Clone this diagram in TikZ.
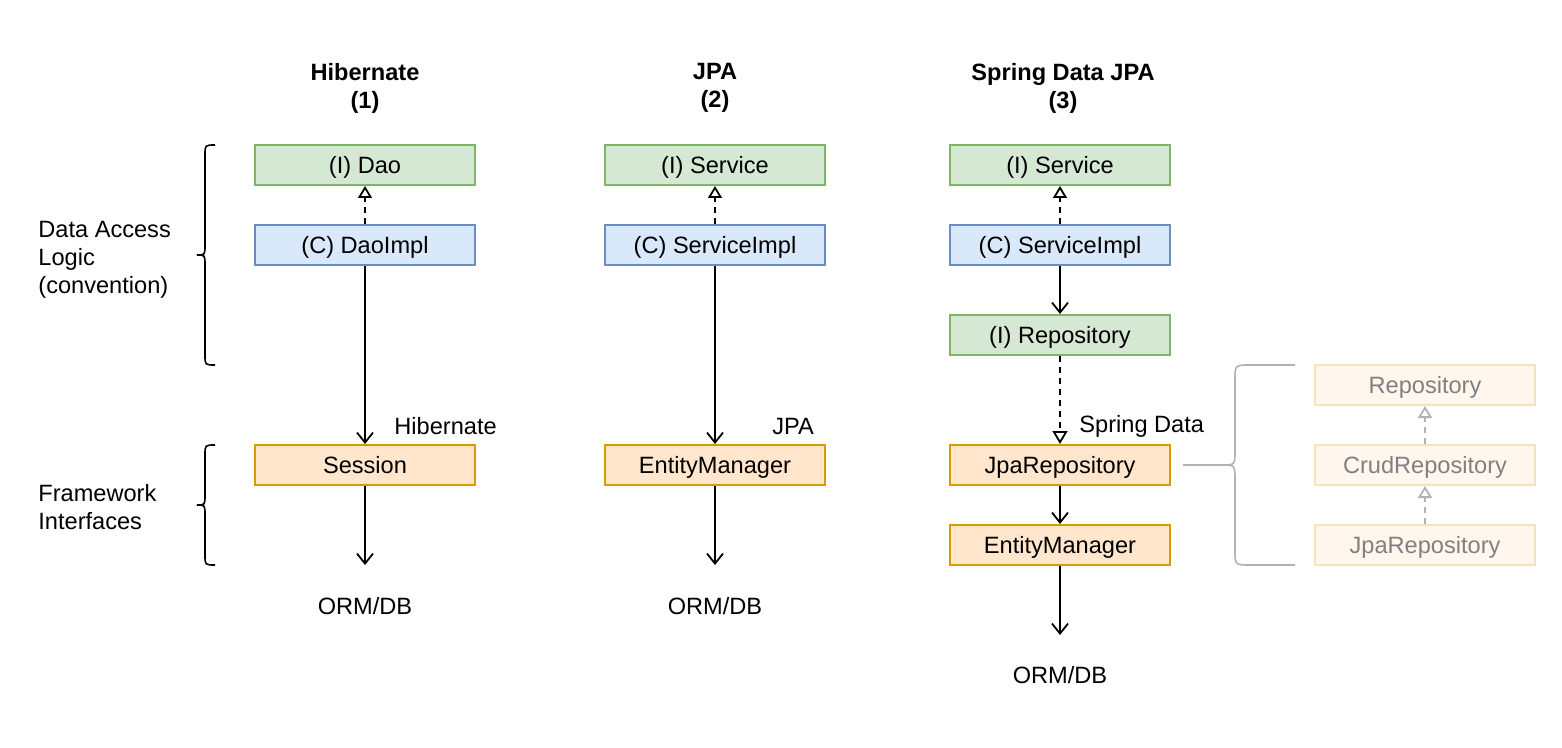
\documentclass[tikz,border=0pt]{standalone}
\usepackage{fontspec}
\setmainfont{Liberation Sans}
\usetikzlibrary{arrows.meta}
\definecolor{leaffill}{RGB}{213, 232, 212}
\definecolor{leafline}{RGB}{130, 179, 102}
\definecolor{skyfill}{RGB}{218, 232, 252}
\definecolor{skyline}{RGB}{108, 142, 191}
\definecolor{sandfill}{RGB}{255, 230, 204}
\definecolor{sandline}{RGB}{215, 155, 0}
\definecolor{palefill}{RGB}{255, 246, 238}
\definecolor{paleline}{RGB}{249, 225, 188}
\definecolor{paletext}{RGB}{128, 128, 128}
\definecolor{bracegray}{RGB}{178, 178, 178}
\tikzset{
  box/.style    = {draw, line width=1pt, minimum width=110pt, minimum height=20pt, inner sep=0pt, text height=8.4pt, text depth=0pt},
  ifacebox/.style = {box, draw=leafline, fill=leaffill},
  implbox/.style  = {box, draw=skyline,  fill=skyfill},
  fwbox/.style    = {box, draw=sandline, fill=sandfill},
  palebox/.style  = {box, draw=paleline, fill=palefill, text=paletext},
  tag/.style      = {anchor=west, inner sep=0pt},
  uses/.style     = {-{Straight Barb[length=5pt,width=8pt]}, line width=0.9pt},
  realizes/.style = {-{Triangle[open,length=6pt,width=7pt]}, line width=0.9pt, dash pattern=on 3pt off 2.5pt},
}
\begin{document}
\begin{tikzpicture}[x=0.5pt, y=-0.5pt, every node/.style={font=\fontsize{11.8}{14}\selectfont}]
            \useasboundingbox (0,0) rectangle (1562,748);
            \node[align=center, font=\fontsize{11.8}{14}\selectfont\bfseries] (title1) at ( 365, 88) {Hibernate\\(1)};
            \node[align=center, font=\fontsize{11.8}{14}\selectfont\bfseries] (title2) at ( 715, 88) {JPA\\(2)};
            \node[align=center, font=\fontsize{11.8}{14}\selectfont\bfseries] (title3) at (1063, 88) {Spring Data JPA\\(3)};
            \node[tag, align=left] (dalabel) at (38, 260) {Data Access\\Logic\\(convention)};
            \node[tag, align=left] (fwlabel) at (38, 507) {Framework\\Interfaces};
            \draw[line width=0.8pt] (215,145) .. controls (205,145) .. (205,155) -- (205,245) .. controls (205,255) .. (197,255)
                 .. controls (205,255) .. (205,265) -- (205,355) .. controls (205,365) .. (215,365);
            \draw[line width=0.8pt] (215,445) .. controls (205,445) .. (205,455) -- (205,495) .. controls (205,505) .. (197,505)
                 .. controls (205,505) .. (205,515) -- (205,555) .. controls (205,565) .. (215,565);
            \node[ifacebox] (dao)      at ( 365, 165) {(I) Dao};
            \node[implbox]  (daoimpl)  at ( 365, 245) {(C) DaoImpl};
            \node[fwbox]    (session)  at ( 365, 465) {Session};
            \node           (orm1)     at ( 365, 606) {ORM/DB};
            \coordinate     (end1)     at ( 365, 565);
            \node[ifacebox] (svc2)     at ( 715, 165) {(I) Service};
            \node[implbox]  (svcimpl2) at ( 715, 245) {(C) ServiceImpl};
            \node[fwbox]    (em2)      at ( 715, 465) {EntityManager};
            \node           (orm2)     at ( 715, 606) {ORM/DB};
            \coordinate     (end2)     at ( 715, 565);
            \node[ifacebox] (svc3)     at (1060, 165) {(I) Service};
            \node[implbox]  (svcimpl3) at (1060, 245) {(C) ServiceImpl};
            \node[ifacebox] (repo3)    at (1060, 335) {(I) Repository};
            \node[fwbox]    (jparepo)  at (1060, 465) {JpaRepository};
            \node[fwbox]    (em3)      at (1060, 545) {EntityManager};
            \node           (orm3)     at (1060, 675) {ORM/DB};
            \coordinate     (end3)     at (1060, 635);
            \node[palebox]  (repo)     at (1425, 385) {Repository};
            \node[palebox]  (crud)     at (1425, 465) {CrudRepository};
            \node[palebox]  (jpa)      at (1425, 545) {JpaRepository};
            \node[tag]      (hiblabel) at ( 394, 426) {Hibernate};
            \node[tag]      (jpalabel) at ( 772, 426) {JPA};
            \node[tag]      (sdlabel)  at (1079, 426) {Spring Data};
            \draw[realizes] (daoimpl)  -- (dao);
            \draw[uses]     (daoimpl)  -- (session);
            \draw[uses]     (session)  -- (end1);
            \draw[realizes] (svcimpl2) -- (svc2);
            \draw[uses]     (svcimpl2) -- (em2);
            \draw[uses]     (em2)      -- (end2);
            \draw[realizes] (svcimpl3) -- (svc3);
            \draw[uses]     (svcimpl3) -- (repo3);
            \draw[realizes, -{Triangle[open,length=6.5pt,width=7.5pt]}] (repo3) -- (jparepo);
            \draw[uses]     (jparepo)  -- (em3);
            \draw[uses]     (em3)      -- (end3);
            \draw[realizes, draw=bracegray] (crud) -- (repo);
            \draw[realizes, draw=bracegray] (jpa)  -- (crud);
            \coordinate (bracetip) at (1222, 465);
            \draw[bracegray, line width=0.8pt] (jparepo.east) ++(12,0) -- (bracetip);
            \draw[bracegray, line width=0.8pt] (1295,365) -- (1250,365) .. controls (1235,365) .. (1235,380) -- (1235,450)
                 .. controls (1235,465) .. (bracetip) .. controls (1235,465) .. (1235,480) -- (1235,550)
                 .. controls (1235,565) .. (1250,565) -- (1295,565);
        \end{tikzpicture}
\end{document}
